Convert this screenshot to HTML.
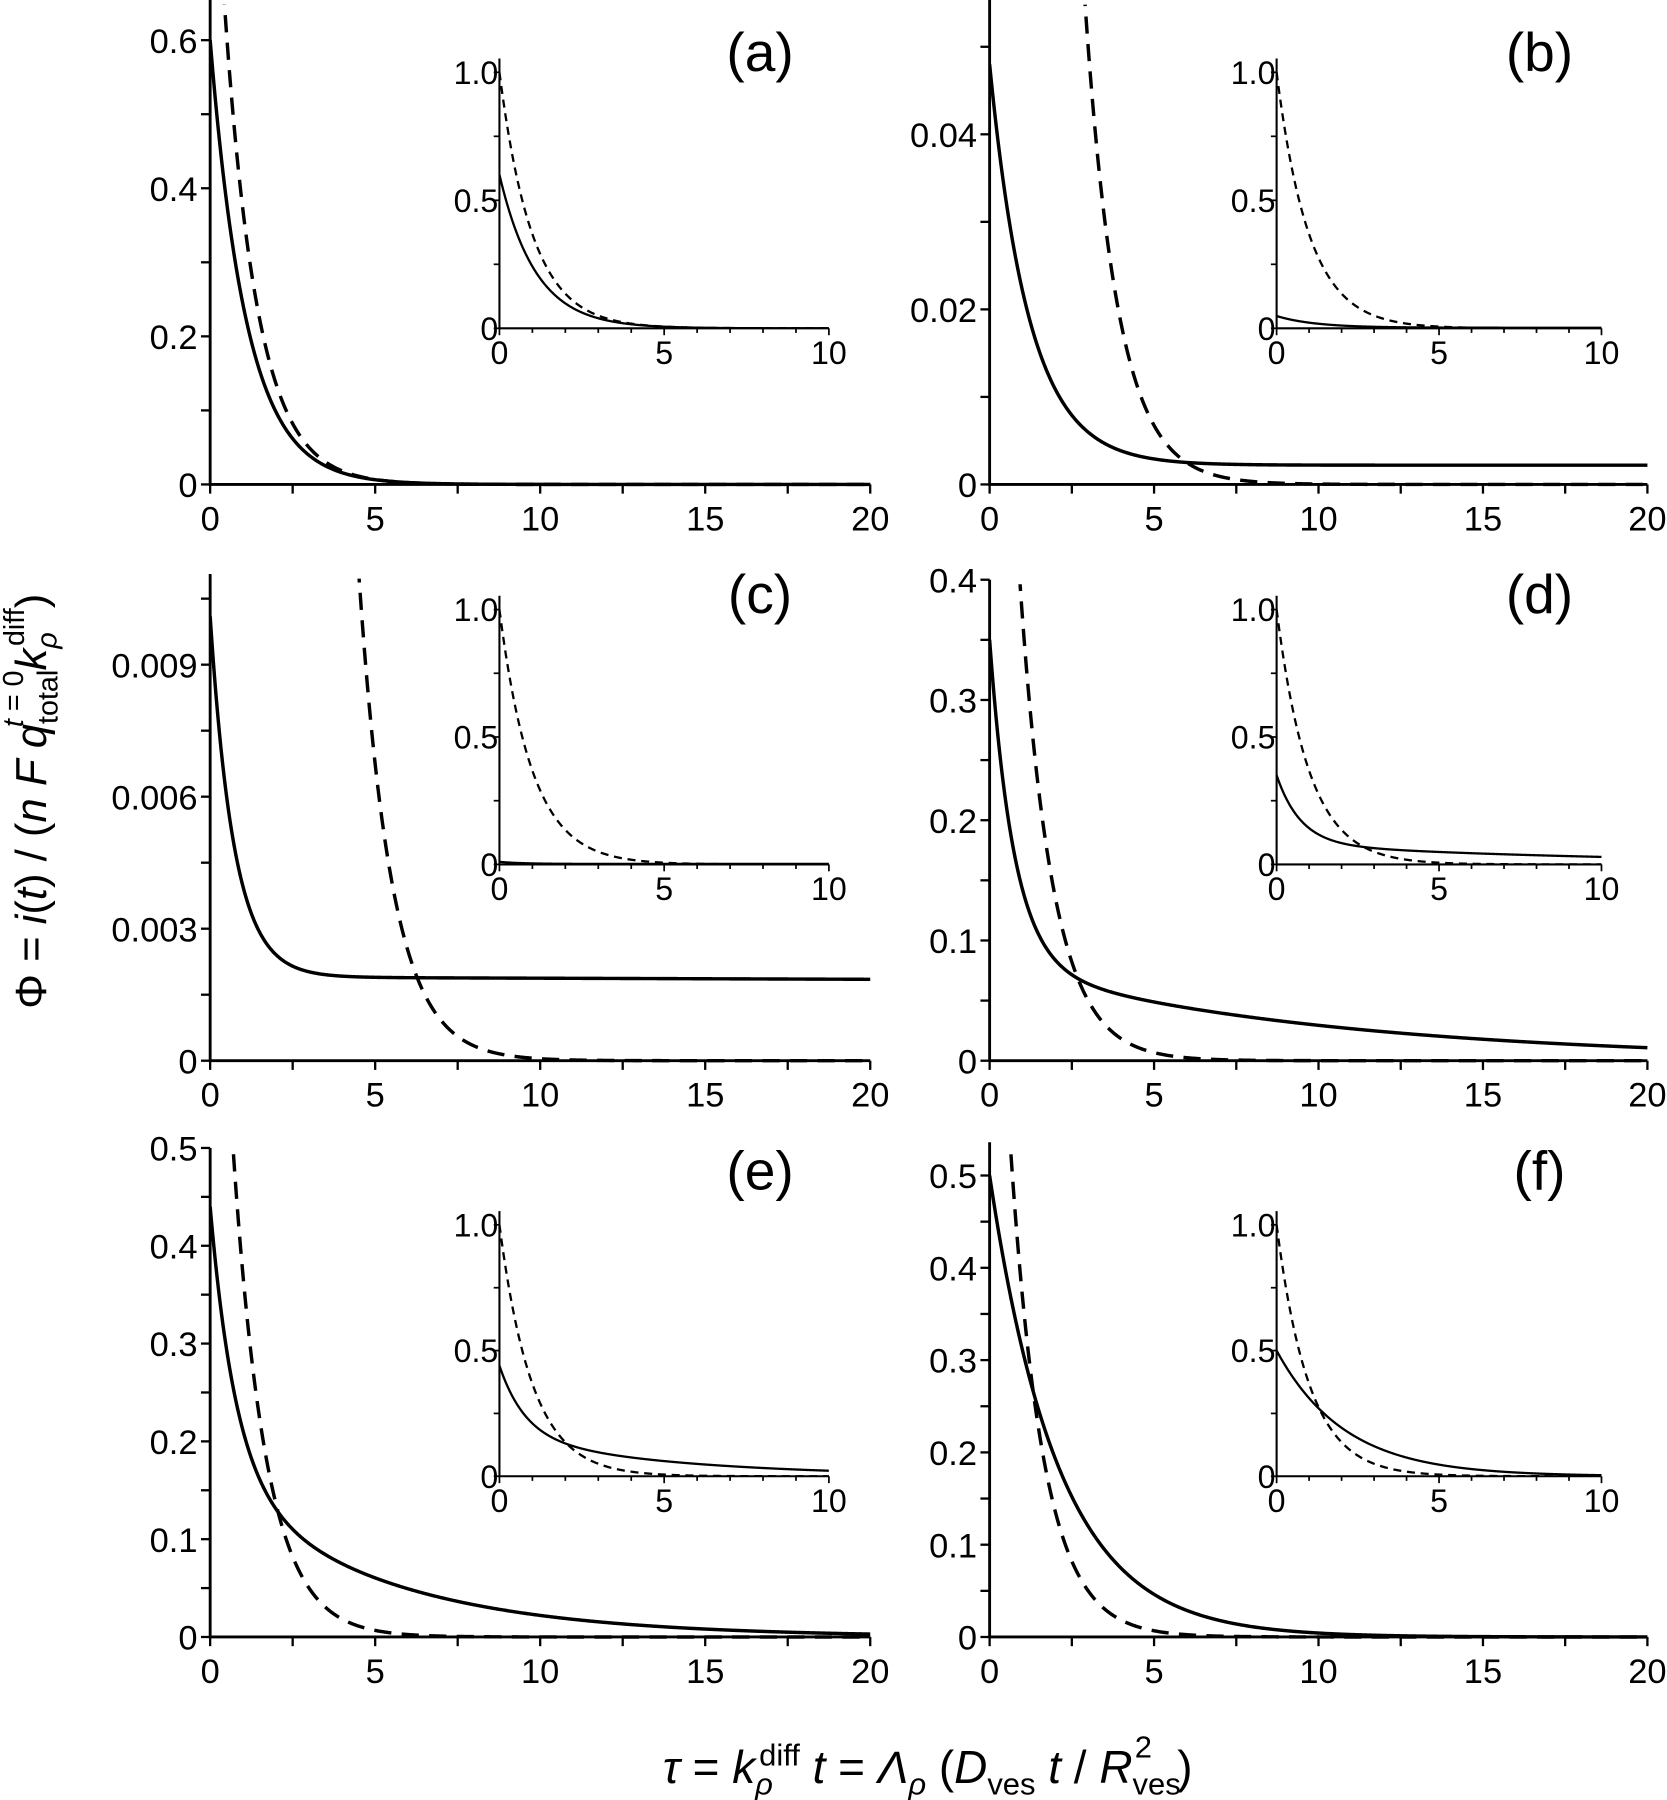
<!DOCTYPE html>
<html><head><meta charset="utf-8"><style>
html,body{margin:0;padding:0;background:#fff;}
svg{display:block;font-family:"Liberation Sans",sans-serif;}
</style></head><body>
<svg id="s" width="1667" height="1800" viewBox="0 0 1452 1568" xmlns="http://www.w3.org/2000/svg">
<g transform="translate(40,698) rotate(-90)" font-size="38" text-anchor="middle">
<text x="0" y="0">Φ = <tspan font-style="italic">i</tspan>(<tspan font-style="italic">t</tspan>) / (<tspan font-style="italic">n F q</tspan><tspan font-size="25" dy="10">total</tspan><tspan font-size="25" dx="-50" dy="-30" font-style="italic">t</tspan><tspan font-size="25"> = 0</tspan><tspan font-style="italic" dy="20">k</tspan><tspan font-size="25" font-style="italic" dy="9">ρ</tspan><tspan font-size="25" dx="-12" dy="-28">diff</tspan><tspan dy="19">)</tspan></text>
</g>
<text x="808" y="1553" font-size="40" text-anchor="middle"><tspan font-style="italic">τ</tspan> = <tspan font-style="italic">k</tspan><tspan font-size="27" font-style="italic" dy="10">ρ</tspan><tspan font-size="27" dx="-12" dy="-25">diff</tspan><tspan font-style="italic" dy="15"> t</tspan> = <tspan font-style="italic">Λ</tspan><tspan font-size="27" font-style="italic" dy="10">ρ</tspan><tspan dy="-10"> (</tspan><tspan font-style="italic">D</tspan><tspan font-size="27" dy="10">ves</tspan><tspan font-style="italic" dy="-10"> t</tspan> / <tspan font-style="italic">R</tspan><tspan font-size="27" dy="10">ves</tspan><tspan font-size="27" dx="-40" dy="-32">2</tspan><tspan dx="22" dy="22">)</tspan></text>
</svg>
<script>
var s=document.getElementById('s'),NS='http://www.w3.org/2000/svg';
function el(t,a,p){var e=document.createElementNS(NS,t);for(var k in a)e.setAttribute(k,a[k]);(p||s).appendChild(e);return e;}
function txt(x,y,str,fs,anc){var e=el('text',{x:x,y:y,'font-size':fs,'text-anchor':anc||'middle'});e.textContent=str;return e;}
var E=Math.exp;
function dash(t){return E(-t/1.0);}
var P=[
 {lab:'(a)',X:183,X2:758,Y0:422,top:0,yt:[0,0.2,0.4,0.6],yl:['0','0.2','0.4','0.6'],ystep:0.1,pp:129/0.2,f:function(t){return 0.6*E(-t/1.1);},iy:286,i1:63},
 {lab:'(b)',X:862,X2:1435,Y0:422,top:0,yt:[0,0.02,0.04],yl:['0','0.02','0.04'],ystep:0.01,pp:152.5/0.02,f:function(t){return 0.0458*E(-t/1.2)+0.0022;},iy:286,i1:63},
 {lab:'(c)',X:183,X2:758,Y0:924,top:500,yt:[0,0.003,0.006,0.009],yl:['0','0.003','0.006','0.009'],ystep:0.0015,pp:115/0.003,f:function(t){return 0.0082*E(-t/0.72)+0.0019-0.0000025*t;},iy:753,i1:531},
 {lab:'(d)',X:862,X2:1435,Y0:924,top:505,yt:[0,0.1,0.2,0.3,0.4],yl:['0','0.1','0.2','0.3','0.4'],ystep:0.05,pp:104.75/0.1,f:function(t){return 0.27*E(-t/0.74)+0.08*E(-t/10);},iy:753,i1:531},
 {lab:'(e)',X:183,X2:758,Y0:1426,top:1000,yt:[0,0.1,0.2,0.3,0.4,0.5],yl:['0','0.1','0.2','0.3','0.4','0.5'],ystep:0.05,pp:85.2/0.1,f:function(t){return 0.277*E(-t/0.78)+0.163*E(-t/5);},iy:1286,i1:1067},
 {lab:'(f)',X:862,X2:1435,Y0:1426,top:995,yt:[0,0.1,0.2,0.3,0.4,0.5],yl:['0','0.1','0.2','0.3','0.4','0.5'],ystep:0.05,pp:80.4/0.1,f:function(t){return 0.5*E(-t/2.1);},iy:1286,i1:1067}
];
P.forEach(function(p,i){
 var sx=(p.X2-p.X)/20;
 var cid='c'+i;var cp=el('clipPath',{id:cid});el('rect',{x:p.X,y:p.top+4,width:p.X2-p.X+5,height:p.Y0-p.top},cp);
 function path(f,X,sx,Y0,pp,t1){var d='';for(var k=0;k<=800;k++){var t=t1*k/800;var y=Y0-f(t)*pp;if(y<-50)y=-50;d+=(k?'L':'M')+(X+t*sx).toFixed(2)+' '+y.toFixed(2);}return d;}
 var g=el('g',{'clip-path':'url(#'+cid+')'});
 el('path',{d:path(p.f,p.X,sx,p.Y0,p.pp,20),fill:'none',stroke:'#000','stroke-width':3},g);
 el('path',{d:path(dash,p.X,sx,p.Y0,p.pp,20),fill:'none',stroke:'#000','stroke-width':3,'stroke-dasharray':'15 9'},g);
 el('path',{d:'M'+p.X+' '+p.top+'V'+p.Y0+'H'+p.X2,fill:'none',stroke:'#000','stroke-width':2.5});
 for(var t=0;t<=20;t+=2.5){var x=p.X+t*sx;el('line',{x1:x,y1:p.Y0,x2:x,y2:p.Y0+8,stroke:'#000','stroke-width':2});}
 [0,5,10,15,20].forEach(function(t){txt(p.X+t*sx,p.Y0+40,String(t),30);});
 var ymaxv=(p.Y0-p.top)/p.pp;
 for(var v=0;v<=ymaxv+1e-9;v+=p.ystep){var y=p.Y0-v*p.pp;el('line',{x1:p.X-8,y1:y,x2:p.X,y2:y,stroke:'#000','stroke-width':2});}
 p.yt.forEach(function(v,j){txt(p.X-11,p.Y0-v*p.pp+11,p.yl[j],30,'end');});
 txt(p.X+479,p.Y0-(i<2?360:390),p.lab,48);
 var ix=(i%2==0)?435:1112,ix2=(i%2==0)?722:1395,iy=p.iy,ipp=(iy-p.i1);
 var isx=(ix2-ix)/10;
 var cid2='ci'+i;var cp2=el('clipPath',{id:cid2});el('rect',{x:ix,y:p.i1-5,width:ix2-ix,height:iy-p.i1+5},cp2);
 var g2=el('g',{'clip-path':'url(#'+cid2+')'});
 el('path',{d:path(p.f,ix,isx,iy,ipp,10),fill:'none',stroke:'#000','stroke-width':2},g2);
 el('path',{d:path(dash,ix,isx,iy,ipp,10),fill:'none',stroke:'#000','stroke-width':2,'stroke-dasharray':'7 5'},g2);
 el('path',{d:'M'+ix+' '+(p.i1-12)+'V'+iy+'H'+ix2,fill:'none',stroke:'#000','stroke-width':1.8});
 for(var t2=0;t2<=10;t2++){var x2=ix+t2*isx;el('line',{x1:x2,y1:iy,x2:x2,y2:iy+(t2%5==0?6:4),stroke:'#000','stroke-width':1.5});}
 [0,5,10].forEach(function(t){txt(ix+t*isx,iy+31,String(t),28);});
 for(var v2=0;v2<=1.001;v2+=0.25){var y2=iy-v2*ipp;el('line',{x1:ix-5,y1:y2,x2:ix,y2:y2,stroke:'#000','stroke-width':1.5});}
 txt(ix-1,iy+10,'0',28,'end');txt(ix-1,iy-0.5*ipp+10,'0.5',28,'end');txt(ix-1,iy-ipp+10,'1.0',28,'end');
});
</script>
</body></html>
